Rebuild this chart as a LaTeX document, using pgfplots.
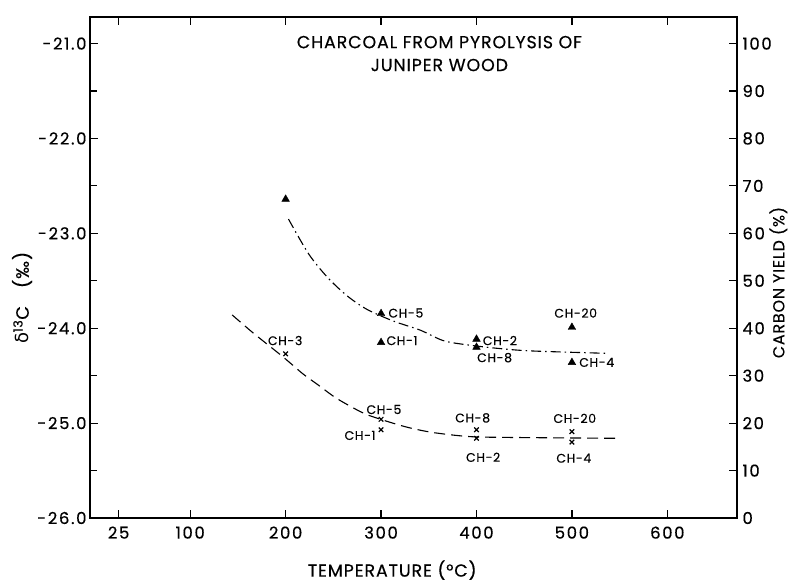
\documentclass[border=0pt]{standalone}
\usepackage{fontspec}
\setmainfont{Poppins}[LetterSpace=5, FakeBold=0.4]
\newfontfamily\tickf{Poppins}[LetterSpace=10, FakeBold=0.4]
\newfontfamily\dv{DejaVu Sans}
\usepackage{pgfplots}
\pgfplotsset{compat=1.18}
\usetikzlibrary{calc}

\newcommand{\lbl}{\fontsize{12.5}{14}\selectfont}

\begin{document}
\begin{tikzpicture}
\pgfplotsset{
  every axis/.append style={
    scale only axis, width=647bp, height=501bp,
    xmin=-5, xmax=673,
    tick align=inside,
    major tick length=8bp, minor tick length=7bp,
    axis line style={line width=1.7bp},
    tick style={line width=1.2bp, black},
    ticklabel style={font=\tickf\fontsize{16.5}{18}\selectfont},
  }
}
% left axis: delta 13C, crosses and dashed curve
\begin{axis}[name=ax,
  ymin=-26, ymax=-20.72,
  xtick={25,100,200,300,400,500,600},
  xticklabels={25,100,200,300,400,500,600},
  xticklabel style={yshift=-5bp},
  xtick pos=both, xticklabel pos=lower,
  ytick={-26,-25,-24,-23,-22,-21},
  yticklabels={-26.0,-25.0,-24.0,-23.0,-22.0,-21.0},
  minor ytick={-25.5,-24.5,-23.5,-22.5,-21.5},
  ytick pos=left,
  xlabel={TEMPERATURE (°C)},
  xlabel style={font=\fontsize{17.5}{20}\selectfont, at={(axis description cs:0.467,-0.104)}, anchor=center},
  ylabel={{\dv δ}\textsuperscript{13}C\quad (‰)},
  ylabel style={font=\fontsize{18}{20}\selectfont, at={(axis description cs:-0.105,0.44)}, anchor=center},
]
\addplot[black, line width=1.1bp, dash pattern=on 11bp off 6bp, smooth] coordinates {
  (144,-23.86) (166,-24.05) (197,-24.30) (218,-24.48) (233,-24.59)
  (252,-24.73) (271,-24.84) (285,-24.91) (309,-24.99) (330,-25.05)
  (355,-25.10) (390,-25.14) (425,-25.15) (547,-25.16)
};
\addplot[only marks, mark=x, mark size=3.2bp, mark options={line width=1.2bp}] coordinates {
  (200,-24.27) (300,-24.96) (300,-25.07) (400,-25.07) (400,-25.16) (500,-25.09) (500,-25.20)
};

\node[align=center, font=\fontsize{17.5}{23}\selectfont] at (rel axis cs:0.54,0.927)
  {CHARCOAL FROM PYROLYSIS OF\\JUNIPER WOOD};

% labels of the triangles
\node[font=\lbl] at (axis cs:326,-23.84) {CH-5};
\node[font=\lbl] at (axis cs:322,-24.13) {CH-1};
\node[font=\lbl] at (axis cs:424.6,-24.13) {CH-2};
\node[font=\lbl] at (axis cs:419,-24.31) {CH-8};
\node[font=\lbl] at (axis cs:504,-23.84) {CH-20};
\node[font=\lbl] at (axis cs:526,-24.36) {CH-4};
% labels of the crosses
\node[font=\lbl] at (axis cs:199.5,-24.13) {CH-3};
\node[font=\lbl] at (axis cs:303,-24.857) {CH-5};
\node[font=\lbl] at (axis cs:278,-25.13) {CH-1};
\node[font=\lbl] at (axis cs:396,-24.945) {CH-8};
\node[font=\lbl] at (axis cs:407,-25.36) {CH-2};
\node[font=\lbl] at (axis cs:503,-24.95) {CH-20};
\node[font=\lbl] at (axis cs:502,-25.37) {CH-4};
\end{axis}

% right axis: carbon yield, triangles and dash-dot curve
\begin{axis}[
  axis x line=none, axis y line*=right,
  ymin=0, ymax=105.6,
  ytick={0,10,20,30,40,50,60,70,80,90,100},
  yticklabels={0,10,20,30,40,50,60,70,80,90,100},
  yticklabel style={xshift=2bp},
  ylabel={CARBON YIELD (\%)},
  ylabel style={font=\fontsize{16}{18}\selectfont, at={(axis description cs:1.064,0.47)}, anchor=center},
]
\addplot[black, line width=1.1bp, dash pattern=on 10bp off 4bp on 1.5bp off 4bp, smooth] coordinates {
  (203,63.0) (224,55.7) (243.5,50.8) (264,46.9) (285,44.0) (313,41.5)
  (341,39.6) (365,37.4) (390,36.5) (425,35.7) (459,35.2) (538,34.7)
};
\addplot[only marks, mark=triangle*, mark size=4.4bp] coordinates {
  (200,67.2) (300,43.1) (300,37.0) (400,37.7) (400,36.0) (500,40.2) (500,32.8)
};
\end{axis}

\pgfresetboundingbox
\path[use as bounding box] ($(ax.south west)+(-90bp,-65bp)$) rectangle ($(ax.north east)+(53bp,17bp)$);
\end{tikzpicture}
\end{document}
